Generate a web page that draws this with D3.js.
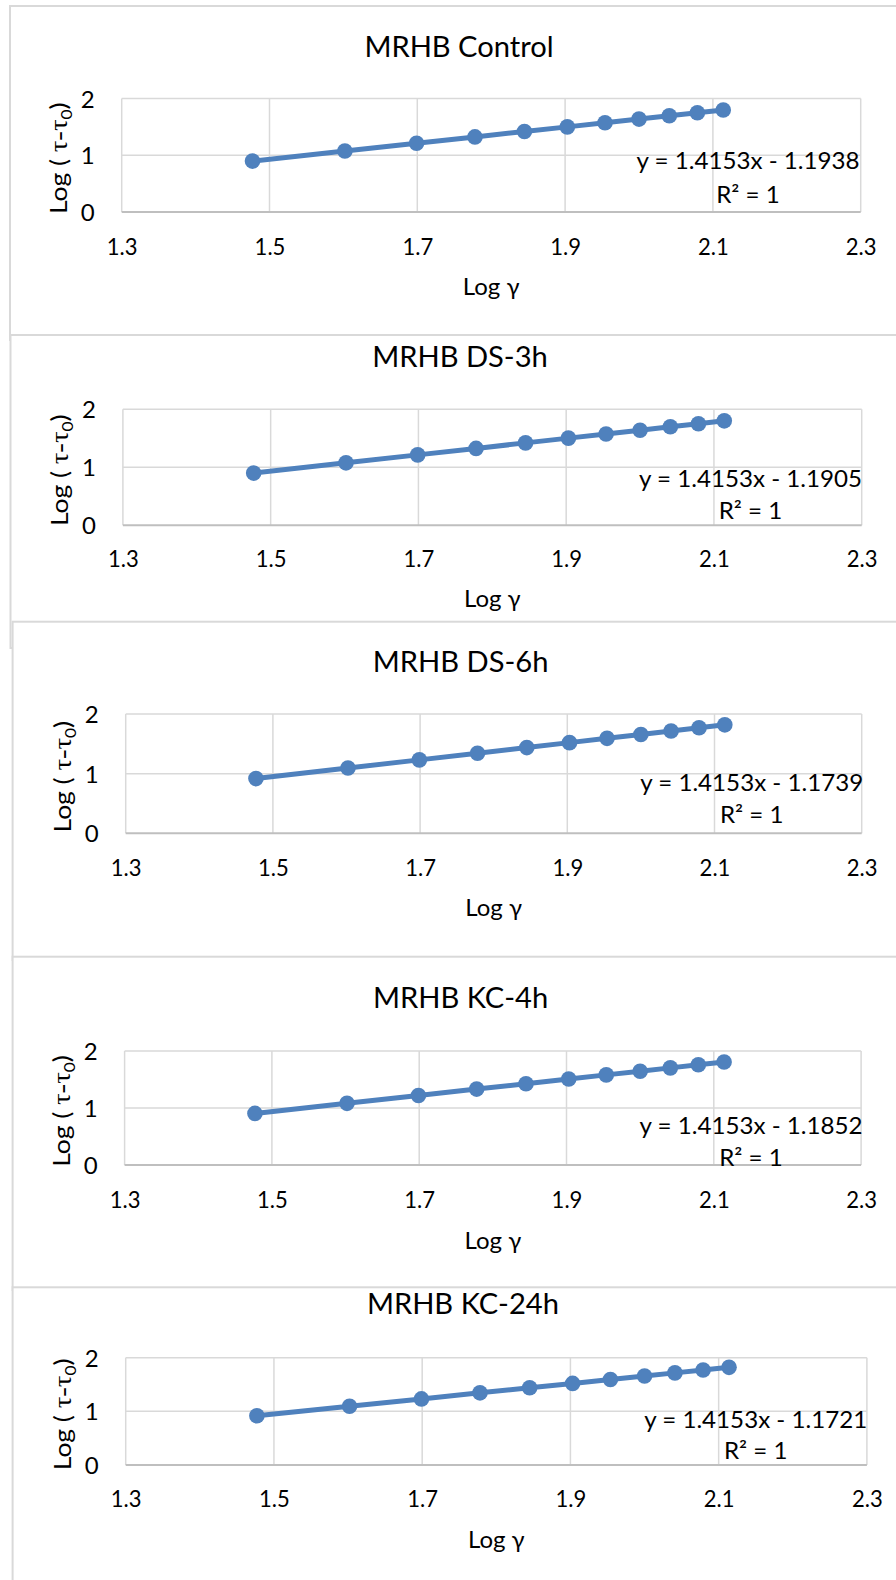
<!DOCTYPE html>
<html>
<head>
<meta charset="utf-8">
<script src="https://cdn.jsdelivr.net/npm/d3@7"></script>
<style>
  body { margin: 0; background: #fff; }
  svg text { font-family: Lato, 'Open Sans', sans-serif; fill: #000; }
</style>
</head>
<body>
<div id="chart"></div>
<script>
  'use strict';

  // data
  var titles = ['MRHB Control', 'MRHB DS-3h', 'MRHB DS-6h', 'MRHB KC-4h', 'MRHB KC-24h'];
  var logGamma = [1.477, 1.602, 1.699, 1.778, 1.845, 1.903, 1.954, 2.000, 2.041, 2.079, 2.114];
  var control = [0.897, 1.074, 1.211, 1.323, 1.418, 1.500, 1.572, 1.637, 1.695, 1.749, 1.798];
  var ds3h    = [0.900, 1.077, 1.214, 1.326, 1.421, 1.503, 1.575, 1.640, 1.699, 1.752, 1.801];
  var ds6h    = [0.917, 1.094, 1.231, 1.343, 1.437, 1.520, 1.592, 1.657, 1.715, 1.769, 1.818];
  var kc4h    = [0.905, 1.082, 1.219, 1.332, 1.426, 1.508, 1.581, 1.645, 1.704, 1.758, 1.807];
  var kc24h   = [0.918, 1.095, 1.232, 1.345, 1.439, 1.521, 1.594, 1.659, 1.717, 1.771, 1.820];
  var series = [control, ds3h, ds6h, kc4h, kc24h];
  var equations = ['y = 1.4153x - 1.1938', 'y = 1.4153x - 1.1905', 'y = 1.4153x - 1.1739',
                   'y = 1.4153x - 1.1852', 'y = 1.4153x - 1.1721'];
  var r2Label = 'R\u00B2 = 1';
  var xTicks = [1.3, 1.5, 1.7, 1.9, 2.1, 2.3];
  var yTicks = [0, 1, 2];

  // where each panel sits on the page (pixels)
  var layout = [
    { l: 10,   t: 6,      b: 340,  x0: 121.7, x1: 860.7, yTop: 98.5,   yBot: 212,    titleX: 459, titleY: 56.7,   tickY: 255.5,  labelY: 295,    eqX: 746,   eqY: 169.3,  r2Y: 203.3 },
    { l: 10.5, t: 335,    b: 648,  x0: 122.9, x1: 861.7, yTop: 409.3,  yBot: 525.3,  titleX: 460, titleY: 366.7,  tickY: 567.3,  labelY: 606.7,  eqX: 748.5, eqY: 486.7,  r2Y: 519 },
    { l: 12.6, t: 621.7,  b: 960,  x0: 125.7, x1: 861.7, yTop: 714,    yBot: 833.3,  titleX: 460.6, titleY: 671.7, tickY: 875.7, labelY: 916,   eqX: 749.7, eqY: 791,    r2Y: 823.3 },
    { l: 12.6, t: 956.7,  b: 1290, x0: 124.6, x1: 861.1, yTop: 1051,   yBot: 1165,   titleX: 460.6, titleY: 1008.3, tickY: 1207.7, labelY: 1249, eqX: 749,   eqY: 1134,   r2Y: 1166 },
    { l: 12.6, t: 1287.3, b: 1700, x0: 125.7, x1: 866.9, yTop: 1357.7, yBot: 1465,   titleX: 462.9, titleY: 1314.3, tickY: 1507.3, labelY: 1548.3, eqX: 753.7, eqY: 1427.7, r2Y: 1459.3 }
  ];

  var width = 896, height = 1580;
  var blue = '#4f81bd', grid = '#d9d9d9';

  var svg = d3.select('#chart').append('svg')
    .attr('width', width)
    .attr('height', height)
    .attr('viewBox', '0 0 ' + width + ' ' + height);

  svg.append('rect').attr('width', width).attr('height', height).attr('fill', '#fff');

  layout.forEach(function(L, i) {

    var x = d3.scaleLinear().domain([1.3, 2.3]).range([L.x0, L.x1]);
    var y = d3.scaleLinear().domain([0, 2]).range([L.yBot, L.yTop]);

    var g = svg.append('g').attr('class', 'panel');

    // chart frame, runs off the right edge like the screenshot
    g.append('rect')
      .attr('x', L.l).attr('y', L.t)
      .attr('width', 1000).attr('height', L.b - L.t)
      .attr('fill', '#fff')
      .attr('stroke', grid)
      .attr('stroke-width', 2);

    // gridlines
    g.append('g').selectAll('line')
      .data(xTicks)
      .enter().append('line')
        .attr('x1', function(d) { return x(d); })
        .attr('x2', function(d) { return x(d); })
        .attr('y1', y(2)).attr('y2', y(0))
        .attr('stroke', grid).attr('stroke-width', 1.5);

    g.append('g').selectAll('line')
      .data(yTicks)
      .enter().append('line')
        .attr('x1', x(1.3)).attr('x2', x(2.3))
        .attr('y1', function(d) { return y(d); })
        .attr('y2', function(d) { return y(d); })
        .attr('stroke', function(d) { return d === 0 ? '#bfbfbf' : grid; })
        .attr('stroke-width', function(d) { return d === 0 ? 2 : 1.5; });

    // axes (labels only)
    var xAxis = g.append('g')
      .attr('transform', 'translate(0,' + L.yBot + ')')
      .call(d3.axisBottom(x).tickValues(xTicks).tickSize(0).tickFormat(d3.format('.1f')));
    xAxis.select('.domain').remove();
    xAxis.selectAll('text')
      .attr('y', L.tickY - L.yBot).attr('dy', 0)
      .attr('font-size', 24)
      .attr('transform', 'scale(0.92,1)')
      .style('font-family', 'Lato, sans-serif')
      .style('fill', '#000');

    var yAxis = g.append('g')
      .attr('transform', 'translate(' + (L.x0 - 27) + ',0)')
      .call(d3.axisLeft(y).tickValues(yTicks).tickSize(0).tickPadding(0).tickFormat(d3.format('d')));
    yAxis.select('.domain').remove();
    yAxis.selectAll('text')
      .attr('x', 0).attr('dy', '0.36em')
      .attr('font-size', 24)
      .style('font-family', 'Lato, sans-serif')
      .style('fill', '#000');

    // title
    g.append('text')
      .attr('transform', 'translate(' + L.titleX + ',' + L.titleY + ') scale(1.04,1)')
      .attr('text-anchor', 'middle')
      .attr('font-size', 28)
      .text(titles[i]);

    // axis titles
    g.append('text')
      .attr('transform', 'translate(' + ((L.x0 + L.x1) / 2) + ',' + L.labelY + ')')
      .attr('text-anchor', 'middle')
      .attr('font-size', 24)
      .text('Log \u03B3');

    var yLab = g.append('text')
      .attr('transform', 'translate(' + (L.x0 - 55) + ',' + ((L.yTop + L.yBot) / 2 + 3) + ') rotate(-90) scale(1.15,1)')
      .attr('text-anchor', 'middle')
      .attr('font-size', 23);
    yLab.append('tspan').text('Log ( ');
    yLab.append('tspan').style('font-family', "'Liberation Serif', serif").attr('font-size', 25).text('\u03C4-\u03C4');
    yLab.append('tspan').attr('font-size', 15).attr('dy', 5).text('0');
    yLab.append('tspan').attr('dy', -5).text(')');

    // series line + markers
    var pts = logGamma.map(function(v, k) { return { x: v, y: series[i][k] }; });
    var lineGen = d3.line()
      .x(function(d) { return x(d.x); })
      .y(function(d) { return y(d.y); });

    g.append('path')
      .attr('d', lineGen(pts))
      .attr('fill', 'none')
      .attr('stroke', blue)
      .attr('stroke-width', 5)
      .attr('stroke-linejoin', 'round');

    g.append('g').selectAll('circle')
      .data(pts)
      .enter().append('circle')
        .attr('cx', function(d) { return x(d.x); })
        .attr('cy', function(d) { return y(d.y); })
        .attr('r', 7.8)
        .attr('fill', blue);

    // trendline label
    g.append('text')
      .attr('transform', 'translate(' + (L.eqX + 2) + ',' + L.eqY + ') scale(1.05,1)')
      .attr('text-anchor', 'middle')
      .attr('font-size', 23)
      .text(equations[i]);

    g.append('text')
      .attr('transform', 'translate(' + (L.eqX + 2) + ',' + L.r2Y + ') scale(1.05,1)')
      .attr('text-anchor', 'middle')
      .attr('font-size', 23)
      .text(r2Label);

  });
</script>
</body>
</html>
